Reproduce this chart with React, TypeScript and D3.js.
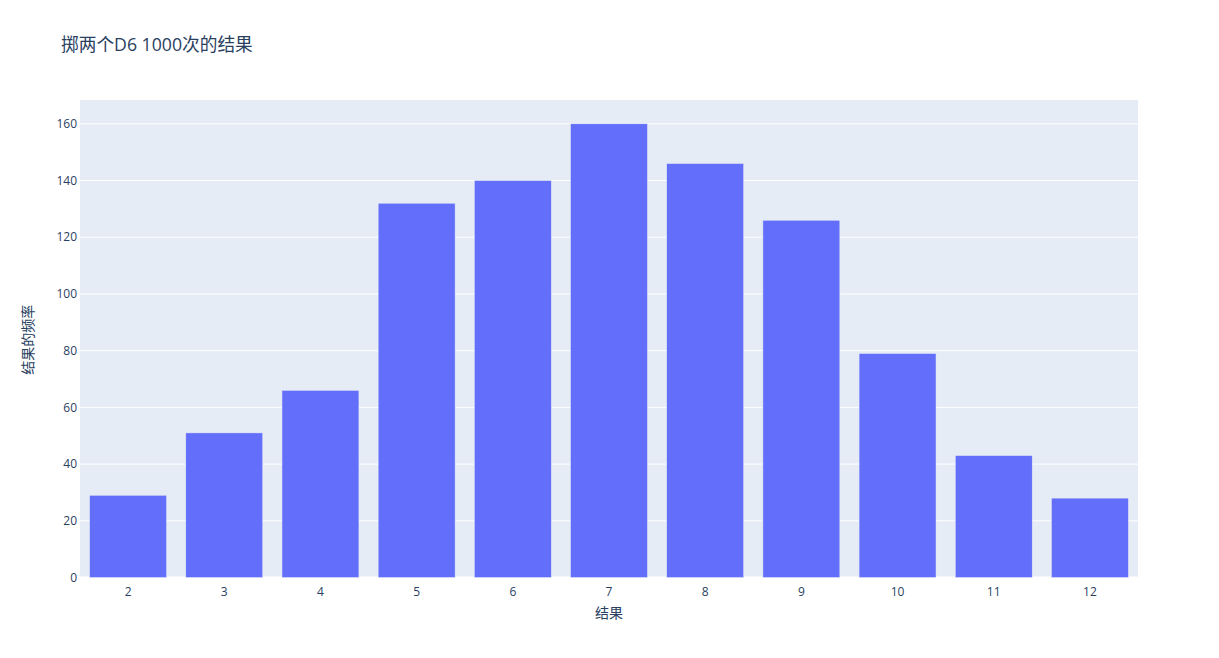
import React from "react";
import * as d3 from "d3";

const categories: string[] = ["2", "3", "4", "5", "6", "7", "8", "9", "10", "11", "12"];
const frequencies: number[] = [29, 51, 66, 132, 140, 160, 146, 126, 79, 43, 28];
const yTicks: number[] = [0, 20, 40, 60, 80, 100, 120, 140, 160];
const titleText = "掷两个D6 1000次的结果";
const xTitle = "结果";
const yTitle = "结果的频率";

const W = 1219;
const H = 658;
const M = { left: 80, right: 81, top: 100, bottom: 80.5 };
const FONT = '"Open Sans", "Noto Sans CJK SC", "Noto Sans", sans-serif';
const TEXT = "#2a3f5f";

export default function App() {
  const x = d3.scaleBand<string>().domain(categories).range([M.left, W - M.right]).paddingInner(0.2).paddingOuter(0.1);
  const yMax = d3.max(frequencies)! * 1.0525;
  const y = d3.scaleLinear().domain([0, yMax]).range([H - M.bottom, M.top]);
  const plotW = W - M.left - M.right;
  const plotH = H - M.top - M.bottom;

  return (
    <svg width={W} height={H} style={{ position: "absolute", left: 0, top: 0, background: "#fff" }} fontFamily={FONT}>
      <rect x={M.left} y={M.top} width={plotW} height={plotH} fill="#E5ECF6" />
      {yTicks.map((t) => (
        <line key={"g" + t} x1={M.left} x2={W - M.right} y1={y(t)} y2={y(t)} stroke="#fff" strokeWidth={t === 0 ? 2 : 1} />
      ))}
      {categories.map((c, i) => (
        <rect
          key={c}
          x={x(c)!}
          y={y(frequencies[i])}
          width={x.bandwidth()}
          height={y(0) - y(frequencies[i])}
          fill="#636efa"
          stroke="#E5ECF6"
          strokeWidth={0.5}
        />
      ))}
      {yTicks.map((t) => (
        <text key={"yt" + t} x={M.left - 3} y={y(t)} dy="0.35em" textAnchor="end" fontSize={12} fill={TEXT}>
          {t}
        </text>
      ))}
      {categories.map((c) => (
        <text key={"xt" + c} x={x(c)! + x.bandwidth() / 2} y={H - M.bottom + 18} textAnchor="middle" fontSize={12} fill={TEXT}>
          {c}
        </text>
      ))}
      <text x={M.left + plotW / 2} y={618} textAnchor="middle" fontSize={14} fill={TEXT}>
        {xTitle}
      </text>
      <text transform={`translate(33, ${M.top + plotH / 2 + 1}) rotate(-90)`} textAnchor="middle" fontSize={14} fill={TEXT}>
        {yTitle}
      </text>
      <text x={61} y={51} fontSize={17.7} fill={TEXT}>
        {titleText}
      </text>
    </svg>
  );
}
